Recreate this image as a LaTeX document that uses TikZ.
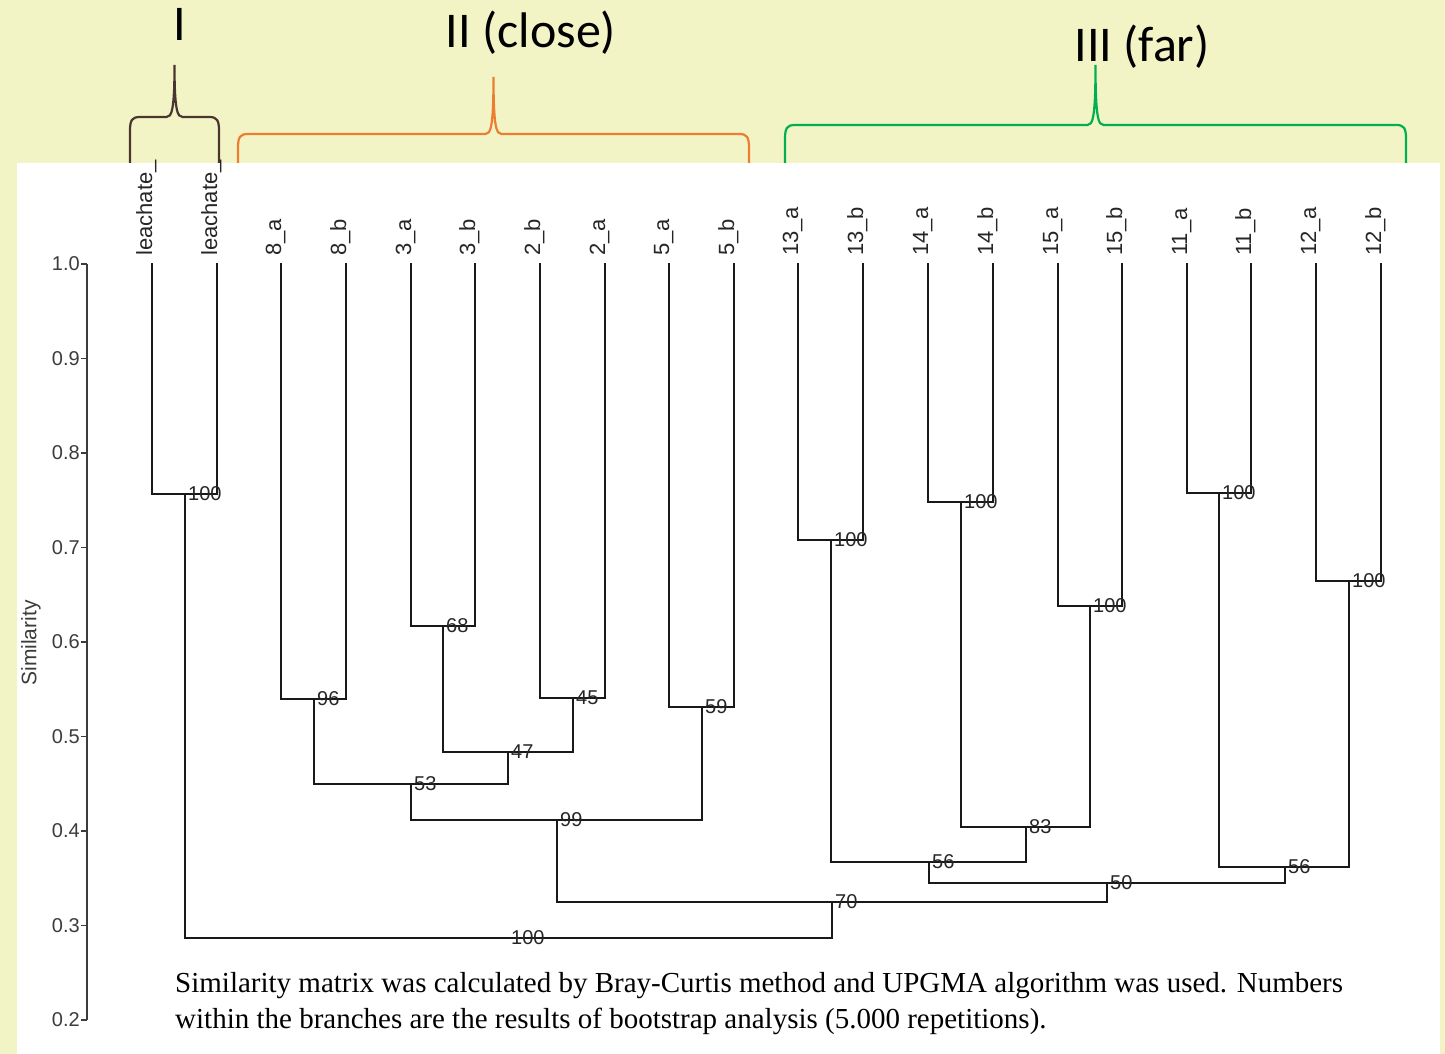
\documentclass[tikz,border=0pt]{standalone}
\usepackage{fontspec}
\setmainfont{Liberation Sans}
\newfontfamily\capfont{Liberation Serif}
\newfontfamily\grpfont{Carlito}
\usetikzlibrary{calc}

\definecolor{slidebg}{RGB}{242,244,198}
\definecolor{brI}{RGB}{75,53,48}
\definecolor{brII}{RGB}{237,125,49}
\definecolor{brIII}{RGB}{0,176,80}
\definecolor{axisgray}{RGB}{60,60,60}

% curly brace over a group: colour, left x, right x, bar y, tip y, foot y
\newcommand{\grpbrace}[6]{%
  \pgfmathsetmacro\bm{(#2+#3)/2}
  \draw[#1, line width=2.2pt] (#2,#6) -- (#2,#4+14)
    .. controls (#2,#4+3) and (#2+2,#4) .. (#2+10,#4) -- (\bm-8,#4)
    .. controls (\bm-3,#4) and (\bm,#4-6) .. (\bm,#5)
    .. controls (\bm,#4-6) and (\bm+3,#4) .. (\bm+8,#4) -- (#3-10,#4)
    .. controls (#3-2,#4) and (#3,#4+3) .. (#3,#4+14) -- (#3,#6);
}

\begin{document}
\begin{tikzpicture}[
    x = 1pt, y = -1pt, % one unit = one pixel of the figure
    tree/.style = {line width=2.2pt, black!90, line cap=rect},
    leaf/.style = {rotate=90, anchor=base west, inner sep=0pt, text=black!85,
                   font=\fontsize{22}{22}\selectfont},
    boot/.style = {anchor=west, inner sep=3pt, text=black!85,
                   font=\fontsize{20}{20}\selectfont},
    ticklab/.style = {anchor=east, inner sep=0pt, text=axisgray,
                      font=\fontsize{20}{20}\selectfont},
    grp/.style = {anchor=base, inner sep=0pt, font=\grpfont\fontsize{50}{50}\selectfont},
    capt/.style = {anchor=base west, inner sep=0pt, font=\capfont\fontsize{29}{29}\selectfont}
]

% Frame
\useasboundingbox (0,0) rectangle (1445,1054);
\fill[slidebg] (0,0) rectangle (1445,1054);

% Group braces
\grpbrace{brI}{130}{219}{117}{65}{163}
\grpbrace{brII}{238}{749}{134}{77}{163}
\grpbrace{brIII}{785}{1406}{125}{65}{163}

\node[grp] (gI) at (180,41) {I};
\node[grp] (gII) at (531,48) {II (close)};
\node[grp] (gIII) at (1142,62) {III (far)};

\fill[white] (17,163) rectangle (1440,1054);

% Axis
\draw[axisgray, line width=1.6pt] (87,264) -- (87,1020);
\foreach \v/\yy in {1.0/264, 0.9/358.5, 0.8/453, 0.7/547.5, 0.6/642,
                    0.5/736.5, 0.4/831, 0.3/925.5, 0.2/1020} {
    \draw[axisgray, line width=1.6pt] (81,\yy) -- (87,\yy);
    \node[ticklab] at (80,\yy) {\v};
}
\node[rotate=90, text=axisgray, font=\fontsize{21}{21}\selectfont] (ylab) at (31,643) {Similarity};

% Leaves
\node[leaf] (tle1) at (152,256) {leachate\_};
\node[leaf] (tle2) at (217,256) {leachate\_};
\node[leaf] (t8a) at (281,256) {8\_a};
\node[leaf] (t8b) at (346,256) {8\_b};
\node[leaf] (t3a) at (411,256) {3\_a};
\node[leaf] (t3b) at (475,256) {3\_b};
\node[leaf] (t2b) at (540,256) {2\_b};
\node[leaf] (t2a) at (605,256) {2\_a};
\node[leaf] (t5a) at (669,256) {5\_a};
\node[leaf] (t5b) at (734,256) {5\_b};
\node[leaf] (t13a) at (798,256) {13\_a};
\node[leaf] (t13b) at (863,256) {13\_b};
\node[leaf] (t14a) at (928,256) {14\_a};
\node[leaf] (t14b) at (993,256) {14\_b};
\node[leaf] (t15a) at (1058,256) {15\_a};
\node[leaf] (t15b) at (1122,256) {15\_b};
\node[leaf] (t11a) at (1187,256) {11\_a};
\node[leaf] (t11b) at (1251,256) {11\_b};
\node[leaf] (t12a) at (1316,256) {12\_a};
\node[leaf] (t12b) at (1381,256) {12\_b};

\coordinate (le1) at (152,264);
\coordinate (le2) at (217,264);
\coordinate (l8a) at (281,264);
\coordinate (l8b) at (346,264);
\coordinate (l3a) at (411,264);
\coordinate (l3b) at (475,264);
\coordinate (l2b) at (540,264);
\coordinate (l2a) at (605,264);
\coordinate (l5a) at (669,264);
\coordinate (l5b) at (734,264);
\coordinate (l13a) at (798,264);
\coordinate (l13b) at (863,264);
\coordinate (l14a) at (928,264);
\coordinate (l14b) at (993,264);
\coordinate (l15a) at (1058,264);
\coordinate (l15b) at (1122,264);
\coordinate (l11a) at (1187,264);
\coordinate (l11b) at (1251,264);
\coordinate (l12a) at (1316,264);
\coordinate (l12b) at (1381,264);

% Merge points
\coordinate (nle) at (185,494);
\coordinate (n8) at (314,699);
\coordinate (n3) at (443,626);
\coordinate (n2) at (573,698);
\coordinate (n5) at (702,707);
\coordinate (n32) at (508,752);
\coordinate (n832) at (411,784);
\coordinate (nII) at (557,820);
\coordinate (n13) at (831,540);
\coordinate (n14) at (961,502);
\coordinate (n15) at (1090,606);
\coordinate (n1415) at (1026,827);
\coordinate (n1315) at (929,862);
\coordinate (n11) at (1219,493);
\coordinate (n12) at (1349,581);
\coordinate (n1112) at (1285,867);
\coordinate (nIII) at (1107,883);
\coordinate (nmid) at (832,902);
\coordinate (nroot) at (508,938);

% Branches
\draw[tree] (le1) |- (nle) -| (le2);
\draw[tree] (l8a) |- (n8) -| (l8b);
\draw[tree] (l3a) |- (n3) -| (l3b);
\draw[tree] (l2b) |- (n2) -| (l2a);
\draw[tree] (l5a) |- (n5) -| (l5b);
\draw[tree] (n3) |- (n32) -| (n2);
\draw[tree] (n8) |- (n832) -| (n32);
\draw[tree] (n832) |- (nII) -| (n5);
\draw[tree] (l13a) |- (n13) -| (l13b);
\draw[tree] (l14a) |- (n14) -| (l14b);
\draw[tree] (l15a) |- (n15) -| (l15b);
\draw[tree] (n14) |- (n1415) -| (n15);
\draw[tree] (n13) |- (n1315) -| (n1415);
\draw[tree] (l11a) |- (n11) -| (l11b);
\draw[tree] (l12a) |- (n12) -| (l12b);
\draw[tree] (n11) |- (n1112) -| (n12);
\draw[tree] (n1315) |- (nIII) -| (n1112);
\draw[tree] (nII) |- (nmid) -| (nIII);
\draw[tree] (nle) |- (nroot) -| (nmid);

% Bootstrap values
\node[boot] (ble) at (nle) {100};
\node[boot] (b8) at (n8) {96};
\node[boot] (b3) at (n3) {68};
\node[boot] (b2) at (n2) {45};
\node[boot] (b5) at (n5) {59};
\node[boot] (b32) at (n32) {47};
\node[boot] (b832) at (n832) {53};
\node[boot] (bII) at (nII) {99};
\node[boot] (b13) at (n13) {100};
\node[boot] (b14) at (n14) {100};
\node[boot] (b15) at (n15) {100};
\node[boot] (b1415) at (n1415) {83};
\node[boot] (b1315) at (n1315) {56};
\node[boot] (b11) at (n11) {100};
\node[boot] (b12) at (n12) {100};
\node[boot] (b1112) at (n1112) {56};
\node[boot] (bIII) at (nIII) {50};
\node[boot] (bmid) at (nmid) {70};
\node[boot] (broot) at (nroot) {100};

% Caption
\node[capt] (cap1) at (175,992) {Similarity matrix was calculated by Bray-Curtis method and UPGMA algorithm was used. Numbers};
\node[capt] (cap2) at (175,1028) {within the branches are the results of bootstrap analysis (5.000 repetitions).};

\end{tikzpicture}
\end{document}
